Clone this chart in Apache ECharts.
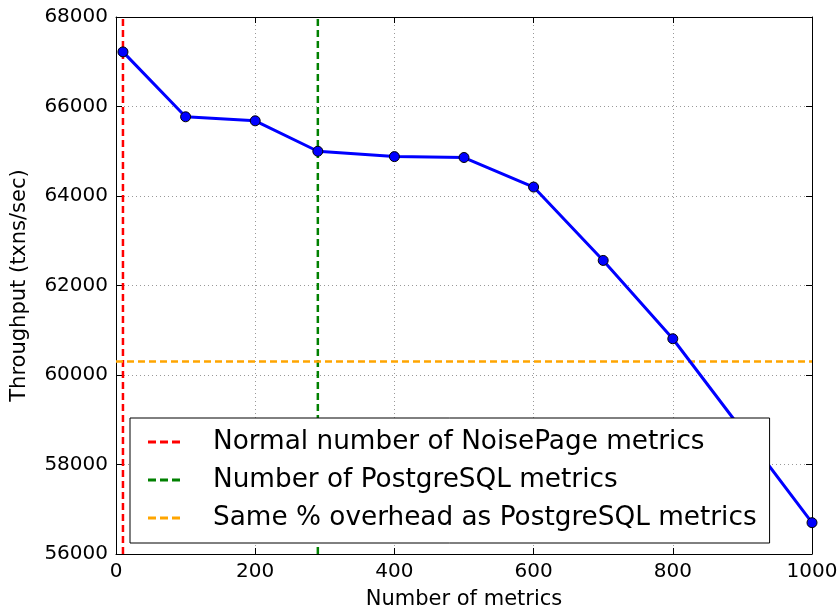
<!DOCTYPE html>
<html>
<head>
<meta charset="utf-8">
<script src="https://cdn.jsdelivr.net/npm/echarts@6/dist/echarts.min.js"></script>
<style>
  html, body { margin: 0; padding: 0; background: #fff; }
  #chart { width: 839px; height: 612px; }
</style>
</head>
<body>
<div id="chart"></div>
<script>
// throughput measurements
const metricCounts = [10, 100, 200, 290, 400, 500, 600, 700, 800, 900, 1000];
const throughput = [67220, 65770, 65680, 65000, 64880, 64860, 64200, 62560, 60810, 58760, 56700];

// reference markers
const noisePageX = 10;
const postgresX = 290;
const sameOverheadY = 60300;

const xMin = 0, xMax = 1000, xStep = 200;
const yMin = 56000, yMax = 68000, yStep = 2000;

const legendNames = [
  'Normal number of NoisePage metrics',
  'Number of PostgreSQL metrics',
  'Same % overhead as PostgreSQL metrics'
];

const font = 'DejaVu Sans';
const mainData = metricCounts.map((x, i) => [x, throughput[i]]);
// three short dashes, like the matplotlib legend handle
const dashIcon = 'path://M0,0h8v3H0zM12,0h8v3h-8zM24,0h8v3h-8z';

let myChart = echarts.init(document.getElementById('chart'));
myChart.setOption({
  animation: false,
  grid: { left: 116, right: 27, top: 17, bottom: 58, outerBoundsMode: 'none' },
  xAxis: [
    {
      type: 'value', min: xMin, max: xMax, interval: xStep,
      name: 'Number of metrics', nameLocation: 'middle', nameGap: 35,
      nameTextStyle: { fontFamily: font, fontSize: 21, color: '#000' },
      axisLine: { show: true, onZero: false, lineStyle: { color: '#000', width: 1 } },
      axisTick: { inside: true, length: 6, lineStyle: { color: '#000' } },
      axisLabel: { fontFamily: font, fontSize: 20, color: '#000', margin: 8, formatter: v => String(v) },
      splitLine: { show: true, lineStyle: { color: '#999', type: [1, 3], width: 1 } }
    },
    {
      type: 'value', position: 'top', min: xMin, max: xMax, interval: xStep,
      axisLine: { show: true, onZero: false, lineStyle: { color: '#000', width: 1 } },
      axisTick: { inside: true, length: 6, lineStyle: { color: '#000' } },
      axisLabel: { show: false },
      splitLine: { show: false }
    }
  ],
  yAxis: [
    {
      type: 'value', min: yMin, max: yMax, interval: yStep,
      name: 'Throughput (txns/sec)', nameLocation: 'middle', nameGap: 86,
      nameTextStyle: { fontFamily: font, fontSize: 21, color: '#000' },
      axisLine: { show: true, onZero: false, lineStyle: { color: '#000', width: 1 } },
      axisTick: { inside: true, length: 6, lineStyle: { color: '#000' } },
      axisLabel: { fontFamily: font, fontSize: 20, color: '#000', margin: 8, formatter: v => String(v) },
      splitLine: { show: true, lineStyle: { color: '#999', type: [1, 3], width: 1 } }
    },
    {
      type: 'value', position: 'right', min: yMin, max: yMax, interval: yStep,
      axisLine: { show: true, onZero: false, lineStyle: { color: '#000', width: 1 } },
      axisTick: { inside: true, length: 6, lineStyle: { color: '#000' } },
      axisLabel: { show: false },
      splitLine: { show: false }
    }
  ],
  legend: {
    orient: 'vertical',
    left: 130, top: 418, z: 20,
    padding: [11, 13, 12, 18],
    itemGap: 12,
    itemWidth: 32, itemHeight: 3,
    icon: dashIcon,
    backgroundColor: '#fff',
    borderColor: '#000', borderWidth: 1, borderRadius: 0,
    textStyle: { fontFamily: font, fontSize: 26.3, lineHeight: 26, color: '#000', padding: [0, 0, 0, 28] },
    data: legendNames
  },
  series: [
    {
      name: legendNames[0], type: 'line', symbol: 'none', z: 3,
      lineStyle: { color: '#ff0000', width: 2.5, type: [7, 4] },
      itemStyle: { color: '#ff0000' },
      data: [[noisePageX, yMin], [noisePageX, yMax]]
    },
    {
      name: legendNames[1], type: 'line', symbol: 'none', z: 3,
      lineStyle: { color: '#008000', width: 2.5, type: [7, 4] },
      itemStyle: { color: '#008000' },
      data: [[postgresX, yMin], [postgresX, yMax]]
    },
    {
      name: legendNames[2], type: 'line', symbol: 'none', z: 3,
      lineStyle: { color: '#ffa500', width: 2.5, type: [7, 4] },
      itemStyle: { color: '#ffa500' },
      data: [[xMin, sameOverheadY], [xMax, sameOverheadY]]
    },
    {
      name: 'throughput', type: 'line', z: 4,
      symbol: 'circle', symbolSize: 10,
      lineStyle: { color: '#0000ff', width: 3 },
      itemStyle: { color: '#0000ff', borderColor: '#000', borderWidth: 1 },
      data: mainData
    }
  ]
});
</script>
</body>
</html>
